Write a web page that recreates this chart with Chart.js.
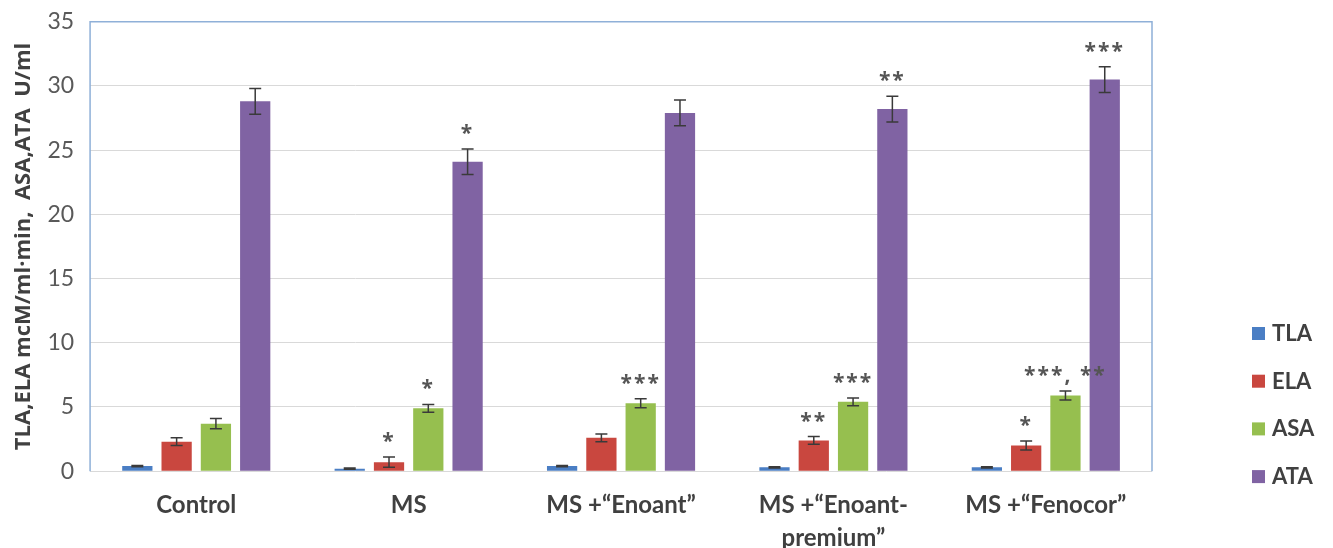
<!DOCTYPE html>
<html lang="en">
<head>
<meta charset="UTF-8">
<title>Enzyme activity</title>
<script src="https://cdn.jsdelivr.net/npm/chart.js"></script>
<style>
  html, body { margin: 0; padding: 0; background: #fff; }
  #wrap { width: 1333px; height: 548px; position: relative; }
</style>
</head>
<body>
<div id="wrap"><canvas id="chart"></canvas></div>
<script>
// data
const groups = ['Control', 'MS', 'MS +“Enoant”', ['MS +“Enoant-', 'premium”'], 'MS +“Fenocor”'];
const seriesNames = ['TLA', 'ELA', 'ASA', 'ATA'];
const seriesColors = ['#4a7ec4', '#c9473f', '#96bf4f', '#8063a3'];
const tla = [0.4, 0.2, 0.4, 0.3, 0.3];
const ela = [2.3, 0.7, 2.6, 2.4, 2.0];
const asa = [3.7, 4.9, 5.3, 5.4, 5.9];
const ata = [28.8, 24.1, 27.9, 28.2, 30.5];
const tlaErr = [0.05, 0.05, 0.05, 0.05, 0.05];
const elaErr = [0.3, 0.4, 0.3, 0.3, 0.35];
const asaErr = [0.4, 0.3, 0.35, 0.3, 0.35];
const ataErr = [1.0, 1.0, 1.0, 1.0, 1.0];
const tlaMarks = ['', '', '', '', ''];
const elaMarks = ['', '*', '', '**', '*'];
const asaMarks = ['', '*', '***', '***', '***, **'];
const ataMarks = ['', '*', '', '**', '***'];
const yMin = 0, yMax = 35, yStep = 5;
const yTitle = 'TLA,ELA mcM/ml·min,  ASA,ATA  U/ml';

const values = [tla, ela, asa, ata];
const errors = [tlaErr, elaErr, asaErr, ataErr];
const marks = [tlaMarks, elaMarks, asaMarks, ataMarks];

const FONT = 'Lato, "Open Sans", sans-serif';

const datasets = seriesNames.map((name, i) => ({
  label: name,
  data: values[i],
  backgroundColor: seriesColors[i],
  errors: errors[i],
  marks: marks[i],
  barPercentage: 0.77,
  categoryPercentage: 0.74
}));

// border around the plot area (top, left, right in blue)
const frame = {
  id: 'frame',
  afterDraw(chart) {
    const a = chart.chartArea, ctx = chart.ctx;
    ctx.save();
    ctx.strokeStyle = '#8fb0d8';
    ctx.lineWidth = 1.5;
    ctx.beginPath();
    ctx.moveTo(a.left, a.bottom);
    ctx.lineTo(a.left, a.top);
    ctx.lineTo(a.right, a.top);
    ctx.lineTo(a.right, a.bottom);
    ctx.stroke();
    ctx.restore();
  }
};

// error bars + significance stars
const errorBars = {
  id: 'errorBars',
  afterDatasetsDraw(chart) {
    const ctx = chart.ctx, y = chart.scales.y;
    ctx.save();
    chart.data.datasets.forEach((ds, di) => {
      const meta = chart.getDatasetMeta(di);
      meta.data.forEach((bar, i) => {
        const v = ds.data[i], e = ds.errors[i];
        const top = y.getPixelForValue(v + e);
        const bot = y.getPixelForValue(Math.max(v - e, 0));
        ctx.strokeStyle = '#3a3a3a';
        ctx.lineWidth = 1.5;
        ctx.beginPath();
        ctx.moveTo(bar.x, top); ctx.lineTo(bar.x, bot);
        ctx.moveTo(bar.x - 6, top); ctx.lineTo(bar.x + 6, top);
        ctx.moveTo(bar.x - 6, bot); ctx.lineTo(bar.x + 6, bot);
        ctx.stroke();
        const m = ds.marks[i];
        if (m) {
          ctx.fillStyle = '#555555';
          ctx.font = 'bold 21px "Open Sans", sans-serif';
          ctx.letterSpacing = '2px';
          ctx.textAlign = 'center';
          ctx.textBaseline = 'alphabetic';
          ctx.fillText(m, bar.x, top - 9);
          ctx.letterSpacing = '0px';
        }
      });
    });
    ctx.restore();
  }
};

// legend on the right
const sideLegend = {
  id: 'sideLegend',
  afterDraw(chart) {
    const ctx = chart.ctx;
    ctx.save();
    chart.data.datasets.forEach((ds, i) => {
      const cy = 333 + i * 47.7;
      ctx.fillStyle = ds.backgroundColor;
      ctx.fillRect(1252, cy - 6, 13, 13);
      ctx.fillStyle = '#404040';
      ctx.font = 'bold 22px ' + FONT;
      ctx.textAlign = 'left';
      ctx.textBaseline = 'middle';
      ctx.fillText(ds.label, 1272, cy + 1);
    });
    ctx.restore();
  }
};

new Chart(document.getElementById('chart'), {
  type: 'bar',
  data: { labels: groups, datasets: datasets },
  options: {
    responsive: true,
    maintainAspectRatio: false,
    animation: false,
    layout: { padding: { left: 11, right: 181, top: -4, bottom: -16 } },
    plugins: {
      legend: { display: false },
      tooltip: { enabled: false }
    },
    scales: {
      x: {
        grid: { display: false },
        border: { display: false },
        ticks: {
          color: '#404040',
          font: { family: FONT, size: 24, weight: 'bold', lineHeight: 1.35 },
          padding: 10,
          maxRotation: 0,
          autoSkip: false
        }
      },
      y: {
        min: yMin,
        max: yMax,
        ticks: {
          stepSize: yStep,
          color: '#595959',
          font: { family: FONT, size: 23, lineHeight: 0.5 },
          padding: 16
        },
        grid: { color: '#d9d9d9', lineWidth: 1, drawTicks: false },
        border: { display: false },
        title: {
          display: true,
          text: yTitle,
          color: '#404040',
          font: { family: '"Open Sans", sans-serif', size: 22, weight: 'bold' },
          padding: { top: 0, bottom: -6 }
        }
      }
    }
  },
  plugins: [frame, errorBars, sideLegend]
});
</script>
</body>
</html>
